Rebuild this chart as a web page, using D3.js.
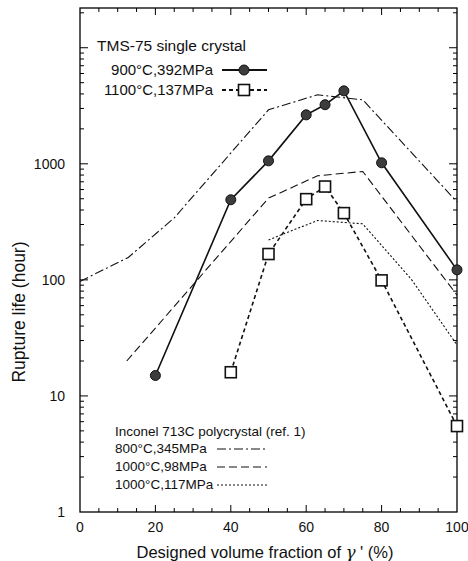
<!DOCTYPE html>
<html>
<head>
<meta charset="utf-8">
<script src="https://cdn.jsdelivr.net/npm/d3@7"></script>
<style>
  body { margin: 0; background: #fff; }
  svg { font-family: "Liberation Sans", Arial, sans-serif; }
  .frame { fill: none; stroke: #000; stroke-width: 1.3; }
  .tick-line { stroke: #000; stroke-width: 1; }
  .tick-label { font-size: 14px; fill: #111; }
</style>
</head>
<body>
<svg></svg>
<script>
// DATA
let volFrac900 = [20, 40, 50, 60, 65, 70, 80, 100];
let life900 = [15, 490, 1060, 2640, 3230, 4250, 1020, 122];

let volFrac1100 = [40, 50, 60, 65, 70, 80, 100];
let life1100 = [16, 167, 496, 637, 376, 99, 5.5];

let volFrac800ref = [0, 12.8, 25, 50, 63, 75, 100];
let life800ref = [97, 156, 342, 2920, 3930, 3560, 470];

let volFrac98ref = [12.4, 50, 63, 75, 100];
let life98ref = [20, 506, 788, 859, 74];

let volFrac117ref = [50, 63, 75, 88, 100];
let life117ref = [221, 325, 304, 100, 27.5];

let xTickLabels = [0, 20, 40, 60, 80, 100];
let yTickLabels = [1, 10, 100, 1000];

// GLOBAL DECLARATIONS
let svg;
let width = 468;
let height = 561;
let plot = {left: 80, right: 457, top: 8, bottom: 512};
let xScale;
let yScale;

setupPage();
drawAxes();
drawSeries();
drawLegends();

function setupPage(){
  svg = d3.select("svg")
    .attr("width", width)
    .attr("height", height);

  xScale = d3.scaleLinear()
    .domain([0, 100])
    .range([plot.left, plot.right]);

  yScale = d3.scaleLog()
    .domain([1, 22000])
    .range([plot.bottom, plot.top]);
}

function drawAxes(){
  svg.append("rect")
    .attr("class", "frame")
    .attr("x", plot.left)
    .attr("y", plot.top)
    .attr("width", plot.right - plot.left)
    .attr("height", plot.bottom - plot.top);

  // x ticks every 5, long every 20, on bottom and top (inward)
  let xTicks = d3.range(5, 100, 5);
  xTicks.forEach(function(v){
    let len = (v % 20 == 0) ? 7 : 4;
    let x = xScale(v);
    svg.append("line").attr("class", "tick-line")
      .attr("x1", x).attr("x2", x)
      .attr("y1", plot.bottom).attr("y2", plot.bottom - len);
    svg.append("line").attr("class", "tick-line")
      .attr("x1", x).attr("x2", x)
      .attr("y1", plot.top).attr("y2", plot.top + len);
  });

  svg.selectAll(".x-label")
    .data(xTickLabels)
    .enter()
    .append("text")
    .attr("class", "tick-label")
    .attr("x", d => xScale(d))
    .attr("y", 532)
    .attr("text-anchor", "middle")
    .text(d => d);

  // log ticks on left and right (inward)
  let yTicks = [];
  [1, 10, 100, 1000, 10000].forEach(function(dec){
    for (let m = 1; m <= 9; m++){
      if (dec * m <= 22000 && dec * m > 1) yTicks.push({v: dec * m, major: m == 1});
    }
  });
  yTicks.forEach(function(t){
    let len = t.major ? 8 : 4;
    let y = yScale(t.v);
    svg.append("line").attr("class", "tick-line")
      .attr("x1", plot.left).attr("x2", plot.left + len)
      .attr("y1", y).attr("y2", y);
    svg.append("line").attr("class", "tick-line")
      .attr("x1", plot.right).attr("x2", plot.right - len)
      .attr("y1", y).attr("y2", y);
  });

  svg.selectAll(".y-label")
    .data(yTickLabels)
    .enter()
    .append("text")
    .attr("class", "tick-label")
    .attr("x", 65)
    .attr("y", d => yScale(d) + 5)
    .attr("text-anchor", "end")
    .text(d => d);

  // axis titles
  svg.append("text")
    .attr("x", 265)
    .attr("y", 558)
    .attr("text-anchor", "middle")
    .style("font-size", "16.5px")
    .style("fill", "#111")
    .html("Designed volume fraction of <tspan font-family='DejaVu Serif' font-style='italic'>γ</tspan> ' (%)");

  svg.append("text")
    .attr("transform", "translate(25,312) rotate(-90)")
    .attr("text-anchor", "middle")
    .style("font-size", "17.5px")
    .style("fill", "#111")
    .text("Rupture life (hour)");
}

function drawSeries(){
  let line = d3.line()
    .x(d => xScale(d[0]))
    .y(d => yScale(d[1]));

  let refLines = [
    {xs: volFrac800ref, ys: life800ref, dash: "9,3,2,3"},
    {xs: volFrac98ref, ys: life98ref, dash: "8,4"},
    {xs: volFrac117ref, ys: life117ref, dash: "2,2"}
  ];
  refLines.forEach(function(r){
    svg.append("path")
      .attr("d", line(d3.zip(r.xs, r.ys)))
      .attr("fill", "none")
      .attr("stroke", "#111")
      .attr("stroke-width", 1.1)
      .attr("stroke-dasharray", r.dash);
  });

  let pts1100 = d3.zip(volFrac1100, life1100);
  svg.append("path")
    .attr("d", line(pts1100))
    .attr("fill", "none")
    .attr("stroke", "#111")
    .attr("stroke-width", 1.6)
    .attr("stroke-dasharray", "4,3");

  let pts900 = d3.zip(volFrac900, life900);
  svg.append("path")
    .attr("d", line(pts900))
    .attr("fill", "none")
    .attr("stroke", "#111")
    .attr("stroke-width", 1.6);

  svg.selectAll(".sq")
    .data(pts1100)
    .enter()
    .append("rect")
    .attr("class", "sq")
    .attr("x", d => xScale(d[0]) - 5.5)
    .attr("y", d => yScale(d[1]) - 5.5)
    .attr("width", 11)
    .attr("height", 11)
    .attr("fill", "#fff")
    .attr("stroke", "#111")
    .attr("stroke-width", 1.6);

  svg.selectAll(".dot")
    .data(pts900)
    .enter()
    .append("circle")
    .attr("class", "dot")
    .attr("cx", d => xScale(d[0]))
    .attr("cy", d => yScale(d[1]))
    .attr("r", 5)
    .attr("fill", "#3c3c3c")
    .attr("stroke", "#111")
    .attr("stroke-width", 1);
}

function drawLegends(){
  // TMS-75 legend
  svg.append("text")
    .attr("x", 97).attr("y", 51)
    .style("font-size", "15.5px").style("fill", "#111")
    .text("TMS-75 single crystal");

  let topRows = [
    {label: "900°C,392MPa", y: 70, dash: null, marker: "circle"},
    {label: "1100°C,137MPa", y: 90, dash: "4,3", marker: "square"}
  ];
  topRows.forEach(function(r){
    svg.append("text")
      .attr("x", 213).attr("y", r.y + 5)
      .attr("text-anchor", "end")
      .style("font-size", "15px").style("fill", "#111")
      .text(r.label);
    svg.append("line")
      .attr("x1", 222).attr("x2", 267)
      .attr("y1", r.y).attr("y2", r.y)
      .attr("stroke", "#111").attr("stroke-width", 1.8)
      .attr("stroke-dasharray", r.dash);
    if (r.marker == "circle"){
      svg.append("circle")
        .attr("cx", 244).attr("cy", r.y).attr("r", 5)
        .attr("fill", "#3c3c3c").attr("stroke", "#111");
    } else {
      svg.append("rect")
        .attr("x", 238.5).attr("y", r.y - 5.5)
        .attr("width", 11).attr("height", 11)
        .attr("fill", "#fff").attr("stroke", "#111").attr("stroke-width", 1.6);
    }
  });

  // Inconel legend
  svg.append("text")
    .attr("x", 115).attr("y", 436)
    .style("font-size", "13.5px").style("fill", "#111")
    .text("Inconel 713C polycrystal (ref. 1)");

  let botRows = [
    {label: "800°C,345MPa", y: 448, dash: "9,3,2,3"},
    {label: "1000°C,98MPa", y: 466, dash: "8,4"},
    {label: "1000°C,117MPa", y: 484, dash: "2,2"}
  ];
  botRows.forEach(function(r){
    svg.append("text")
      .attr("x", 115).attr("y", r.y + 5)
      .style("font-size", "13.5px").style("fill", "#111")
      .text(r.label);
    svg.append("line")
      .attr("x1", 217).attr("x2", 267)
      .attr("y1", r.y + 1).attr("y2", r.y + 1)
      .attr("stroke", "#111").attr("stroke-width", 1.1)
      .attr("stroke-dasharray", r.dash);
  });
}
</script>
</body>
</html>
